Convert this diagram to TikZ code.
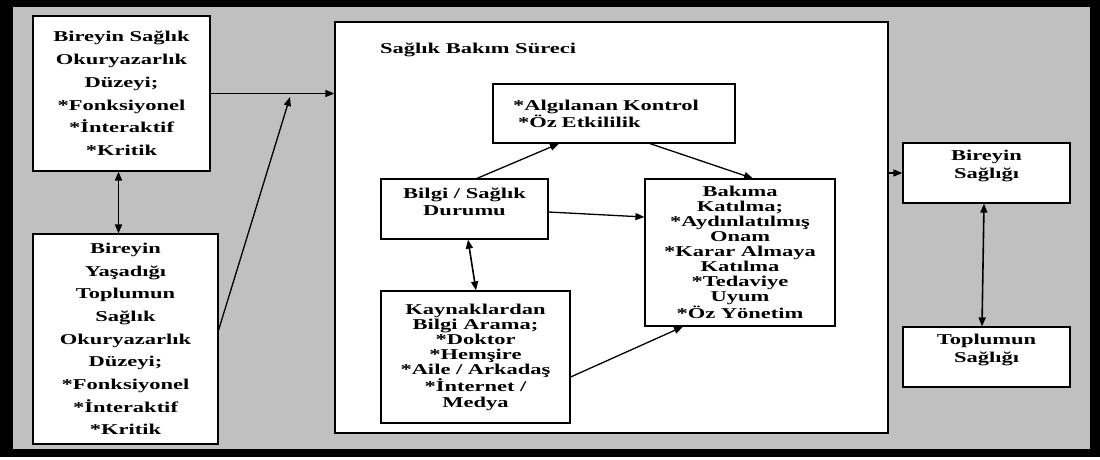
\documentclass[tikz,border=0pt]{standalone}
\usepackage{fontspec}
\setmainfont[FakeStretch=1.5]{Liberation Serif}
\usetikzlibrary{arrows.meta}
\definecolor{bgray}{HTML}{C0C0C0}
\newcommand\liftup[2]{\raisebox{#1}[\height][\depth]{\begin{tabular}{@{}c@{}}#2\end{tabular}}}
\begin{document}
\begin{tikzpicture}[x=1pt,y=-1pt,
  box/.style={draw, line width=1.2pt, fill=white, inner sep=0pt, align=center},
  arr/.style={line width=1.3pt, -{Triangle[length=9pt,width=7pt]}},
  darr/.style={line width=1.6pt, {Triangle[length=9pt,width=7pt]}-{Triangle[length=9pt,width=7pt]}}]
\useasboundingbox (0,0) rectangle (1100,459);
\fill[white] (0,0) rectangle (1100,459);
\fill[black] (0,0) rectangle (1100,457);
\fill[bgray] (13,7) rectangle (1090,449);

% big process box
\node[draw, line width=1.2pt, fill=white, minimum width=553pt, minimum height=411pt, inner sep=0pt] (proc) at (611.5,227.5) {};
\node[anchor=west, inner sep=0pt, font={\fontsize{15}{16}\selectfont\bfseries}] (title) at (380,50) {Sağlık Bakım Süreci};

% left boxes
\node[box, minimum width=177pt, minimum height=155pt, font={\fontsize{15}{22.8}\selectfont\bfseries}] (b1) at (121.5,93.5)
  {Bireyin Sağlık\\Okuryazarlık\\Düzeyi;\\*Fonksiyonel\\*İnteraktif\\*Kritik};
\node[box, minimum width=185pt, minimum height=210pt, font={\fontsize{15}{22.7}\selectfont\bfseries}] (b2) at (125.5,339)
  {Bireyin\\Yaşadığı\\Toplumun\\Sağlık\\Okuryazarlık\\Düzeyi;\\*Fonksiyonel\\*İnteraktif\\*Kritik};

% inner boxes
\node[box, minimum width=242pt, minimum height=59pt, text width=202pt, inner xsep=20pt, align=left, font={\fontsize{15}{14}\selectfont\bfseries}] (alg) at (614,113.5)
  {*Algılanan Kontrol\\\hspace*{5pt}*Öz Etkililik};
\node[box, minimum width=167pt, minimum height=60pt, font={\fontsize{15}{17}\selectfont\bfseries}] (bilgi) at (464.5,209)
  {\liftup{5.5pt}{Bilgi / Sağlık\\Durumu}};
\node[box, minimum width=190pt, minimum height=147pt, font={\fontsize{15}{15}\selectfont\bfseries}] (bakim) at (740,252.5)
  {Bakıma\\Katılma;\\*Aydınlatılmış\\Onam\\*Karar Almaya\\Katılma\\*Tedaviye\\Uyum\\*Öz Yönetim};
\node[box, minimum width=189pt, minimum height=132pt, font={\fontsize{15}{15.2}\selectfont\bfseries}] (kayn) at (475.5,357)
  {Kaynaklardan\\Bilgi Arama;\\*Doktor\\*Hemşire\\*Aile / Arkadaş\\*İnternet /\\Medya};

% right boxes
\node[box, minimum width=167pt, minimum height=60pt, font={\fontsize{15}{18}\selectfont\bfseries}] (bir) at (986.5,173)
  {\liftup{7pt}{Bireyin\\Sağlığı}};
\node[box, minimum width=167pt, minimum height=60pt, font={\fontsize{15}{18}\selectfont\bfseries}] (tops) at (986.5,357)
  {\liftup{7pt}{Toplumun\\Sağlığı}};

% connectors
\coordinate (join) at (290,97);
\draw[arr] (b1.east) -- (b1.east -| proc.west);
\draw[arr] ([yshift=9pt]b2.east) -- (join);
\draw[darr] ([xshift=-3pt]b1.south) -- ([xshift=-3pt]b1.south |- b2.north);
\draw[arr] ([xshift=12.5pt]bilgi.north) -- ([xshift=-55pt]alg.south);
\draw[arr] ([xshift=36pt]alg.south) -- ([xshift=13pt]bakim.north);
\draw[arr] ([yshift=-3pt]bilgi.east) -- ([yshift=35.5pt]bakim.west);
\draw[darr] ([xshift=3.5pt]bilgi.south) -- ([xshift=0.5pt]kayn.north);
\draw[arr] ([yshift=-20pt]kayn.east) -- ([xshift=-57pt]bakim.south);
\draw[arr] (bir.west -| proc.east) -- (bir.west);
\draw[darr] ([xshift=-2.5pt]bir.south) -- ([xshift=-4.5pt]tops.north);
\end{tikzpicture}
\end{document}
